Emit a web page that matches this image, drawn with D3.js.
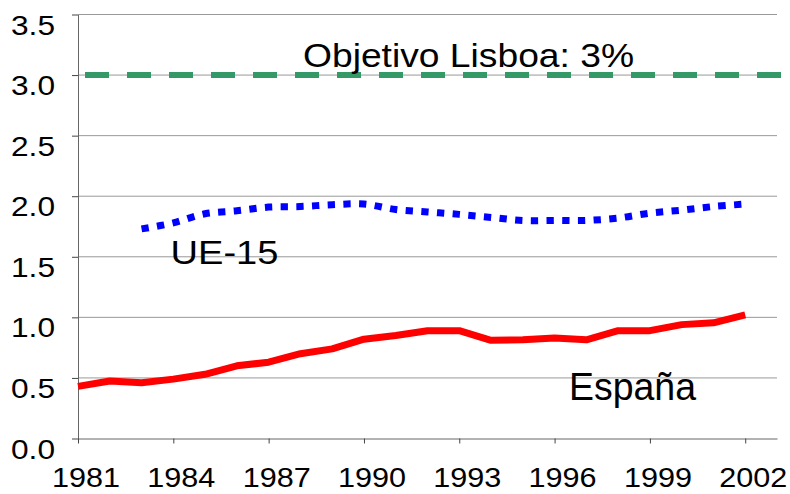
<!DOCTYPE html>
<html>
<head>
<meta charset="utf-8">
<script src="https://cdn.jsdelivr.net/npm/d3@7"></script>
<style>
  body { margin: 0; background: #fff; }
  svg { display: block; font-family: "Liberation Sans", Arial, sans-serif; }
</style>
</head>
<body>
<svg width="790" height="494"></svg>
<script>
// values (% of GDP spent on R&D)
let years = d3.range(1981, 2003);
let espana = [0.43, 0.475, 0.46, 0.49, 0.53, 0.60, 0.63, 0.70, 0.74, 0.82, 0.85,
              0.89, 0.89, 0.81, 0.815, 0.83, 0.815, 0.89, 0.89, 0.94, 0.955, 1.02];
let ueYears = d3.range(1983, 2003);
let ue15 = [1.73, 1.78, 1.855, 1.88, 1.91, 1.915, 1.93, 1.935, 1.89, 1.87,
            1.85, 1.825, 1.80, 1.80, 1.80, 1.82, 1.86, 1.885, 1.915, 1.935];
let objetivo = 3.0;
let yTicks = [0, 0.5, 1, 1.5, 2, 2.5, 3, 3.5];
let xTicks = [1981, 1984, 1987, 1990, 1993, 1996, 1999, 2002];

let svg = d3.select('svg');

let x = d3.scaleLinear().domain([1981, 2003]).range([78, 777]);
let y = d3.scaleLinear().domain([0, 3.5]).range([438.5, 14.5]);

// gridlines
svg.append('g')
  .selectAll('line')
  .data(yTicks.slice(1))
  .enter()
  .append('line')
  .attr('x1', x(1981))
  .attr('x2', x(2003))
  .attr('y1', d => y(d))
  .attr('y2', d => y(d))
  .attr('stroke', '#999')
  .attr('stroke-width', 1);

// y axis
let yAxis = svg.append('g')
  .attr('transform', `translate(${x(1981)},0)`)
  .call(d3.axisLeft(y).tickValues(yTicks).tickFormat(d3.format('.1f'))
    .tickSize(6).tickSizeOuter(0).tickPadding(17));

// x axis
let xAxis = svg.append('g')
  .attr('transform', `translate(0,${y(0)})`)
  .call(d3.axisBottom(x).tickValues(xTicks).tickFormat(d3.format('d'))
    .tickSize(5).tickSizeOuter(0));

[yAxis, xAxis].forEach(g => {
  g.select('.domain').attr('stroke', '#666');
  g.selectAll('.tick line').attr('stroke', '#444');
  g.selectAll('text')
    .attr('font-family', '"Liberation Sans", Arial, sans-serif')
    .attr('font-size', 28)
    .attr('fill', '#000')
    .attr('lengthAdjust', 'spacingAndGlyphs');
});
yAxis.selectAll('text').attr('dy', 0).attr('y', 19.5).attr('textLength', 44);
xAxis.selectAll('text').attr('dy', 0).attr('y', 48.5).attr('x', 7.5).attr('textLength', 68);

// objective line
svg.append('line')
  .attr('x1', x(1981))
  .attr('x2', 781)
  .attr('y1', y(objetivo))
  .attr('y2', y(objetivo))
  .attr('stroke', '#339966')
  .attr('stroke-width', 6)
  .attr('stroke-dasharray', '24 18')
  .attr('stroke-dashoffset', 35);

// UE-15 smoothed dotted line
let ueLine = d3.line()
  .x((d, i) => x(ueYears[i]))
  .y(d => y(d))
  .curve(d3.curveCatmullRom);

svg.append('path')
  .datum(ue15)
  .attr('d', ueLine)
  .attr('fill', 'none')
  .attr('stroke', '#0000ff')
  .attr('stroke-width', 7)
  .attr('stroke-dasharray', '7.3 8.4');

// España
let esLine = d3.line()
  .x((d, i) => x(years[i]))
  .y(d => y(d));

svg.append('path')
  .datum(espana)
  .attr('d', esLine)
  .attr('fill', 'none')
  .attr('stroke', '#ff0000')
  .attr('stroke-width', 7)
  .attr('stroke-linejoin', 'round');

// labels
let labels = [
  { text: 'Objetivo Lisboa: 3%', x: 303, y: 66.7, size: 33.5, len: 331 },
  { text: 'UE-15', x: 170.5, y: 264.3, size: 32.5, len: 108 },
  { text: 'España', x: 569, y: 400, size: 38, len: 127 }
];

svg.append('g')
  .selectAll('text')
  .data(labels)
  .enter()
  .append('text')
  .attr('x', d => d.x)
  .attr('y', d => d.y)
  .attr('font-size', d => d.size)
  .attr('textLength', d => d.len)
  .attr('lengthAdjust', 'spacingAndGlyphs')
  .attr('fill', '#000')
  .text(d => d.text);
</script>
</body>
</html>
